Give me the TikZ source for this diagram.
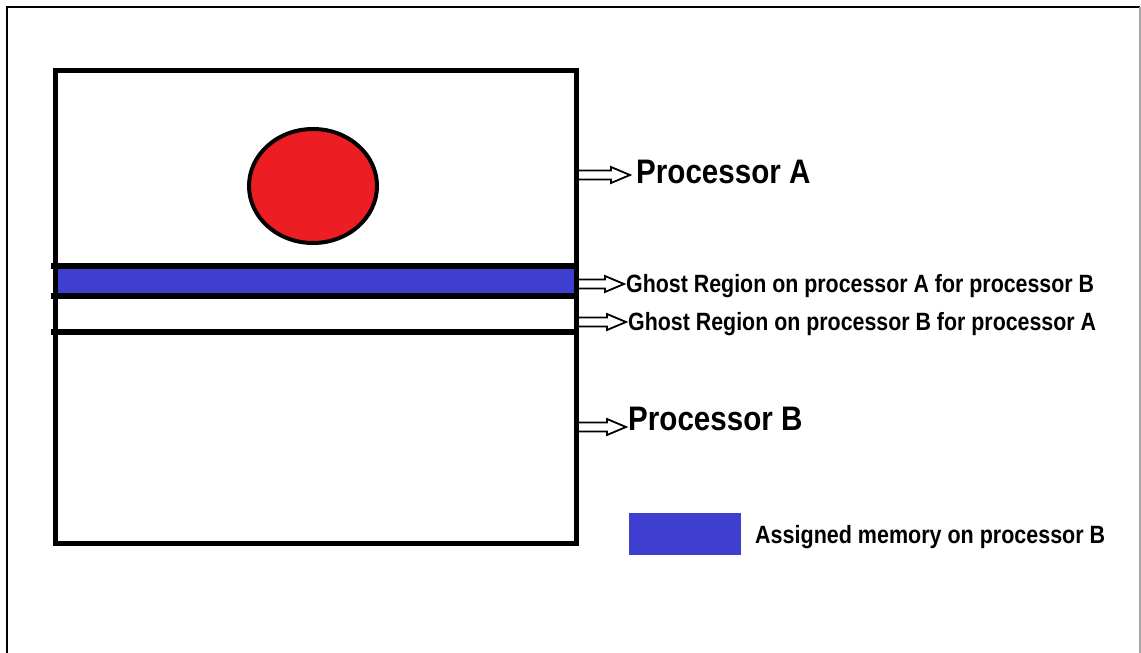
\documentclass[tikz,border=0pt]{standalone}
\usepackage{fontspec}
\usepackage{graphicx}
\setmainfont{Liberation Sans}
\usetikzlibrary{calc}
\definecolor{bandblue}{RGB}{62,62,208}
\definecolor{ballred}{RGB}{236,30,36}
\tikzset{
  thickline/.style={line width=5pt},
  hollowarr/.style={draw=black, fill=white, line width=1.8pt, line join=miter},
  bigtext/.style={anchor=base west, inner sep=0pt, font=\fontsize{34}{34}\selectfont\bfseries},
  smalltext/.style={anchor=base west, inner sep=0pt, font=\fontsize{25}{25}\selectfont\bfseries},
}
\newcommand\hollowarrow[2]{%
  \path[hollowarr] let \p1=(#1), \p2=(#2) in
    (\x1,\y1+4.5pt) -- (\x2-19pt,\y1+4.5pt) -- (\x2-19pt,\y1+8pt) -- (\x2,\y1)
    -- (\x2-19pt,\y1-8pt) -- (\x2-19pt,\y1-4.5pt) -- (\x1,\y1-4.5pt) -- cycle;}
\begin{document}
\begin{tikzpicture}[x=1pt,y=-1pt]
\useasboundingbox (0,0) rectangle (1141,653);
% outer frame
\draw[line width=2pt] (7,653) -- (7,7) -- (1140,7);
\draw[line width=1.5pt, black!35] (1140,7) -- (1140,653);
% blue band
\fill[bandblue] (56,268) rectangle (576,294);
% main box
\draw[thickline] (55,70.5) rectangle (576,543);
\draw[line width=6pt] (51,266) -- (576,266);
\draw[line width=6pt] (51,296) -- (576,296);
\draw[line width=6pt] (51,332) -- (576,332);
% red ball
\draw[line width=4pt, fill=ballred] (313,186) ellipse [x radius=64, y radius=57];
% labels
\node[bigtext] (pa) at (636,183) {\scalebox{0.87}[1]{Processor A}};
\node[smalltext] (ga) at (626,292) {\scalebox{0.855}[1]{Ghost Region on processor A for processor B}};
\node[smalltext] (gb) at (628,330) {\scalebox{0.855}[1]{Ghost Region on processor B for processor A}};
\node[bigtext] (pb) at (628,430) {\scalebox{0.87}[1]{Processor B}};
% arrow starts
\coordinate (sa) at (578,175);
\coordinate (sga) at (578,284);
\coordinate (sgb) at (578,322);
\coordinate (sb) at (578,427);
\coordinate (ea) at (630,175);
\coordinate (ega) at (624,284);
\coordinate (egb) at (626,322);
\coordinate (eb) at (626,427);
\hollowarrow{sa}{ea}
\hollowarrow{sga}{ega}
\hollowarrow{sgb}{egb}
\hollowarrow{sb}{eb}
% legend
\node[fill=bandblue, minimum width=112pt, minimum height=42pt, inner sep=0pt, anchor=north west] (leg) at (629,513) {};
\node[smalltext] (legt) at (755,543) {\scalebox{0.86}[1]{Assigned memory on processor B}};
\end{tikzpicture}
\end{document}
